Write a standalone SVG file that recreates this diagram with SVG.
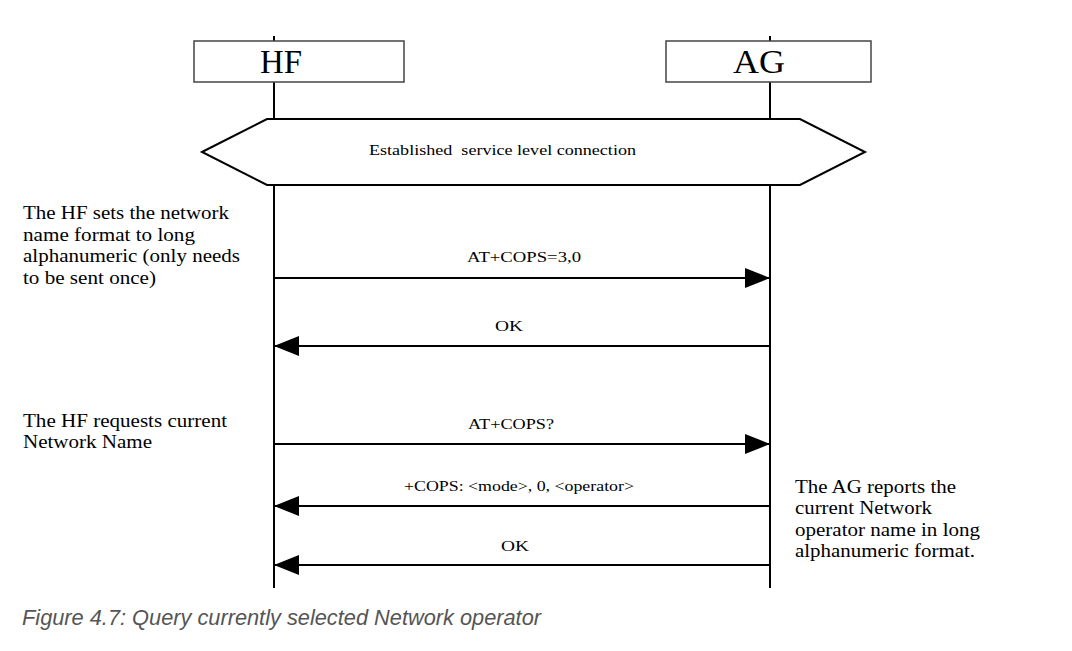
<svg xmlns="http://www.w3.org/2000/svg" width="1072" height="651" viewBox="0 0 1072 651">
<style>
.box{fill:#fff;stroke:#444;stroke-width:1.5}
.life{stroke:#000;stroke-width:2}
.msg{stroke:#000;stroke-width:2;fill:none}
.head{font-family:"Liberation Serif",serif;font-size:34px;fill:#000}
.lbl{font-family:"Liberation Serif",serif;font-size:15.5px;fill:#000}
.note{font-family:"Liberation Serif",serif;font-size:19.5px;fill:#000}
.cap{font-family:"Liberation Sans",sans-serif;font-size:21.5px;font-style:italic;fill:#555}
</style>
<defs>
<marker id="ah" markerWidth="25" markerHeight="20" refX="25" refY="10" orient="auto" markerUnits="userSpaceOnUse">
<path d="M0,0 L25,10 L0,20 Z" fill="#000"/>
</marker>
</defs>
<rect width="1072" height="651" fill="#fff"/>
<g id="lifelines">
<line class="life" x1="274" y1="36" x2="274" y2="588"/>
<line class="life" x1="770" y1="36" x2="770" y2="588"/>
</g>
<g id="HF">
<rect class="box" x="194" y="41" width="210" height="41"/>
<text class="head" x="281" y="73" text-anchor="middle" textLength="42" lengthAdjust="spacingAndGlyphs">HF</text>
</g>
<g id="AG">
<rect class="box" x="666" y="41" width="205" height="41"/>
<text class="head" x="759" y="73" text-anchor="middle" textLength="52" lengthAdjust="spacingAndGlyphs">AG</text>
</g>
<g id="slc">
<polygon points="202,152 267,119 800,119 865,152 800,185 267,185" fill="#fff" stroke="#000" stroke-width="2"/>
<text class="lbl" x="369" y="155" xml:space="preserve" textLength="267" lengthAdjust="spacingAndGlyphs">Established  service level connection</text>
</g>
<g id="connectors">
<line class="msg" x1="274" y1="278" x2="770" y2="278" marker-end="url(#ah)"/>
<line class="msg" x1="770" y1="346" x2="274" y2="346" marker-end="url(#ah)"/>
<line class="msg" x1="274" y1="444" x2="770" y2="444" marker-end="url(#ah)"/>
<line class="msg" x1="770" y1="506" x2="274" y2="506" marker-end="url(#ah)"/>
<line class="msg" x1="770" y1="565" x2="274" y2="565" marker-end="url(#ah)"/>
<text class="lbl" x="467" y="262" textLength="114" lengthAdjust="spacingAndGlyphs">AT+COPS=3,0</text>
<text class="lbl" x="495" y="331" textLength="28" lengthAdjust="spacingAndGlyphs">OK</text>
<text class="lbl" x="468" y="429" textLength="86" lengthAdjust="spacingAndGlyphs">AT+COPS?</text>
<text class="lbl" x="404" y="491" textLength="230" lengthAdjust="spacingAndGlyphs">+COPS: &lt;mode&gt;, 0, &lt;operator&gt;</text>
<text class="lbl" x="501" y="551" textLength="28" lengthAdjust="spacingAndGlyphs">OK</text>
</g>
<g id="note1">
<text class="note" x="23" y="219" textLength="206" lengthAdjust="spacingAndGlyphs">The HF sets the network</text>
<text class="note" x="23" y="241" textLength="172" lengthAdjust="spacingAndGlyphs">name format to long</text>
<text class="note" x="23" y="262" textLength="217" lengthAdjust="spacingAndGlyphs">alphanumeric (only needs</text>
<text class="note" x="23" y="284" textLength="133" lengthAdjust="spacingAndGlyphs">to be sent once)</text>
</g>
<g id="note2">
<text class="note" x="23" y="427" textLength="204" lengthAdjust="spacingAndGlyphs">The HF requests current</text>
<text class="note" x="23" y="448" textLength="129" lengthAdjust="spacingAndGlyphs">Network Name</text>
</g>
<g id="note3">
<text class="note" x="795" y="493" textLength="161" lengthAdjust="spacingAndGlyphs">The AG reports the</text>
<text class="note" x="795" y="514" textLength="137" lengthAdjust="spacingAndGlyphs">current Network</text>
<text class="note" x="795" y="536" textLength="185" lengthAdjust="spacingAndGlyphs">operator name in long</text>
<text class="note" x="795" y="557" textLength="180" lengthAdjust="spacingAndGlyphs">alphanumeric format.</text>
</g>
<text class="cap" x="22" y="625" textLength="519" lengthAdjust="spacingAndGlyphs">Figure 4.7: Query currently selected Network operator</text>
</svg>
